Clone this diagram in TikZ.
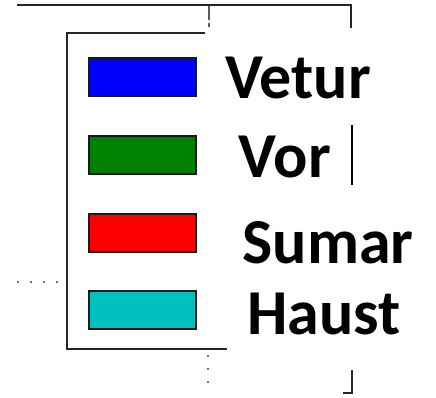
\documentclass[tikz,border=0pt]{standalone}
\usepackage{fontspec}
\setmainfont{Carlito}
\begin{document}
\begin{tikzpicture}[x=1pt,y=-1pt,
  axline/.style={line width=2.8pt,black!85},
  frameline/.style={line width=2.6pt,black!85},
  gridline/.style={line width=1.4pt,black!55,dash pattern=on 2pt off 11pt},
  patch/.style={draw=black!90,line width=2pt,minimum width=107pt,minimum height=38pt,inner sep=0pt,anchor=north west},
  lab/.style={font=\fontsize{64}{64}\selectfont\bfseries,anchor=base,inner sep=0pt}]
\useasboundingbox (0,0) rectangle (436,397);
% axes fragments
\draw[axline] (17,5) -- (351,5) -- (351,28);
\draw[line width=1.4pt,black!65,dash pattern=on 14pt off 3pt] (209,6) -- (209,27);
\draw[gridline] (17,282) -- (65,282);
\draw[gridline] (208,355) -- (208,394);
\draw[line width=1.8pt,black] (352,125) -- (352,185);
\draw[axline] (352,370) -- (352,393) -- (343,393);
% legend frame
\draw[frameline] (205,33) -- (67,33) -- (67,349) -- (227,349);
% patches
\node[patch,fill={rgb,255:red,0;green,0;blue,255}] (pv) at (88,57) {};
\node[patch,fill={rgb,255:red,0;green,128;blue,0}] (pw) at (88,135) {};
\node[patch,fill={rgb,255:red,255;green,0;blue,0}] (ps) at (88,213) {};
\node[patch,fill={rgb,255:red,0;green,191;blue,191}] (ph) at (88,290) {};
% labels
\node[lab] (lv) at (298,98) {Vetur};
\node[lab] (lw) at (285,177) {Vor};
\node[lab] (ls) at (328,263) {Sumar};
\node[lab] (lh) at (324,334) {Haust};
\end{tikzpicture}
\end{document}
